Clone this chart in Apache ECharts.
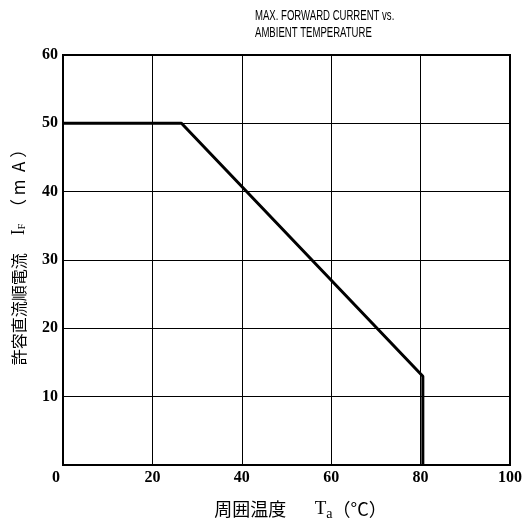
<!DOCTYPE html>
<html><head><meta charset="utf-8">
<script src="https://cdn.jsdelivr.net/npm/echarts@6/dist/echarts.min.js"></script>
<style>html,body{margin:0;padding:0;background:#fff;overflow:hidden}#c{width:525px;height:526px}</style>
</head><body><div id="c"></div>
<script>
const temps = [0, 26.5, 80.5, 80.5];
const currents = [50, 50, 13, 0];
const xTicks = [0, 20, 40, 60, 80, 100];
const yTicks = [0, 10, 20, 30, 40, 50, 60];
const titleLines = ['MAX. FORWARD CURRENT vs.', 'AMBIENT TEMPERATURE'];

const chart = echarts.init(document.getElementById('c'), null, {renderer: 'canvas'});
const serif = '"Liberation Serif","DejaVu Serif",serif';
const cjk = '"Noto Sans CJK JP",sans-serif';
chart.setOption({
  animation: false,
  backgroundColor: '#fff',
  graphic: [{
    type: 'text', left: 255, top: 7, scaleX: 0.66,
    style: {text: titleLines.join('\n'), font: '14.5px "Liberation Sans",Arial,sans-serif', fill: '#000', lineHeight: 17.5}
  }],
  grid: {left: 63, right: 7, top: 55, bottom: 57, show: true, borderColor: '#000', borderWidth: 2},
  xAxis: {
    type: 'value', min: 0, max: 100, interval: 20,
    axisLine: {show: false}, axisTick: {show: false},
    splitLine: {show: true, lineStyle: {color: '#000', width: 1}},
    axisLabel: {color: '#000', fontFamily: serif, fontWeight: 'bold', fontSize: 16, margin: 5,
      formatter: v => v === 0 ? '{z|0}' : (xTicks.includes(v) ? String(v) : ''),
      rich: {z: {fontFamily: serif, fontWeight: 'bold', fontSize: 16, color: '#000', padding: [0, 14, 0, 0]}}},
    name: '{c|周囲温度}{t|　  T}{s|a}{c|（°C）}', nameLocation: 'middle', nameGap: 33,
    nameTextStyle: {padding: [0, 0, 0, 28], rich: {
      c: {fontFamily: cjk, fontSize: 18, color: '#000'},
      t: {fontFamily: serif, fontSize: 19, color: '#000'},
      s: {fontFamily: serif, fontSize: 14, color: '#000', padding: [9,0,0,0]}
    }}
  },
  yAxis: {
    type: 'value', min: 0, max: 60, interval: 10,
    axisLine: {show: false}, axisTick: {show: false},
    splitLine: {show: true, lineStyle: {color: '#000', width: 1}},
    axisLabel: {color: '#000', fontFamily: serif, fontWeight: 'bold', fontSize: 16, margin: 5,
      formatter: v => (v === 0 ? '' : (yTicks.includes(v) ? String(v) : ''))},
    name: '{c|許容直流順電流}{t|　I}{s|F}{p|  （ m  A ）}', nameLocation: 'middle', nameGap: 35, nameRotate: 90,
    nameTextStyle: {padding: [0, 0, 0, 14], rich: {
      c: {fontFamily: cjk, fontSize: 16, color: '#000'},
      p: {fontFamily: cjk, fontSize: 17, color: '#000'},
      t: {fontFamily: serif, fontSize: 18, color: '#000'},
      s: {fontFamily: serif, fontSize: 10, color: '#000', padding: [7,0,0,0]}
    }}
  },
  series: [{
    type: 'line', data: temps.map((t, i) => [t, currents[i]]),
    showSymbol: false, lineStyle: {color: '#000', width: 3}, clip: false
  }]
});
</script></body></html>
